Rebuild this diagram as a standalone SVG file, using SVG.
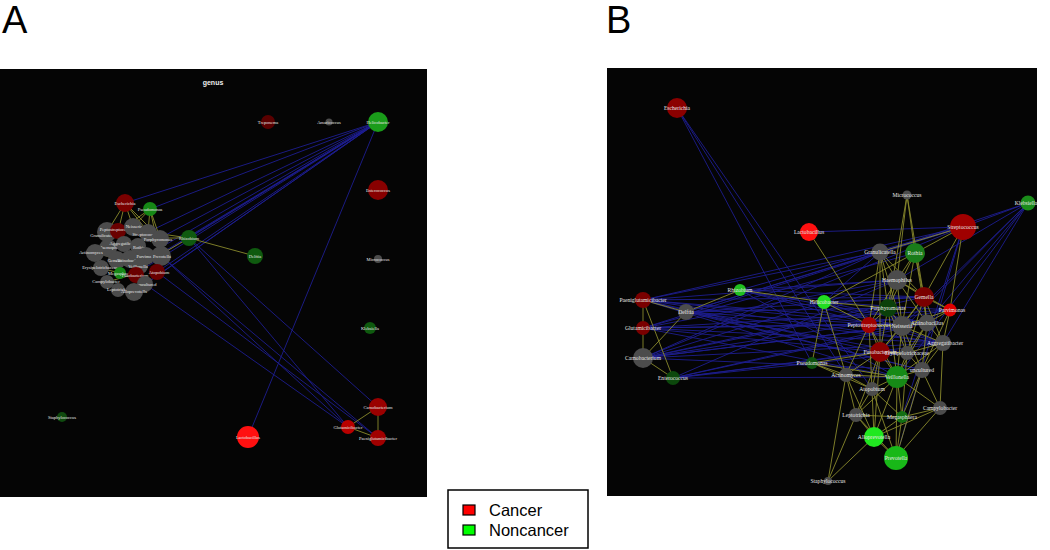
<svg xmlns="http://www.w3.org/2000/svg" width="1050" height="550" viewBox="0 0 1050 550">
<style>
.panel{fill:#050505}
.eb{stroke:#2222a8;stroke-width:0.9;opacity:0.85}
.ey{stroke:#8a8a2c;stroke-width:0.9}
.la{font-family:"Liberation Serif",serif;font-size:4.5px;fill:#e8e8e8;text-anchor:middle;dominant-baseline:central}
.lb{font-family:"Liberation Serif",serif;font-size:5.6px;fill:#e8e8e8;text-anchor:middle;dominant-baseline:central}
.gr{fill:#4c4c4c}
.big{font-family:"Liberation Sans",sans-serif;font-size:38px;fill:#000}
.leg{font-family:"Liberation Sans",sans-serif;font-size:16.5px;fill:#000}
</style>
<rect width="1050" height="550" fill="#fff"/>
<text class="big" x="2" y="33">A</text>
<text class="big" x="606" y="33">B</text>
<rect class="panel" x="0" y="69" width="427" height="428"/>
<rect class="panel" x="607" y="68" width="430" height="428"/>
<text x="213" y="85" font-family="Liberation Sans, sans-serif" font-size="7" font-weight="bold" fill="#eee" text-anchor="middle">genus</text>

<g id="connectors">
<!-- Panel A blue -->
<g class="eb">
<line x1="378" y1="122" x2="125" y2="203"/>
<line x1="378" y1="122" x2="150" y2="209"/>
<line x1="378" y1="122" x2="189" y2="238"/>
<line x1="378" y1="122" x2="148" y2="232"/>
<line x1="378" y1="122" x2="160" y2="238"/>
<line x1="378" y1="122" x2="160" y2="255"/>
<line x1="378" y1="122" x2="146" y2="256"/>
<line x1="378" y1="122" x2="157" y2="272"/>
<line x1="378" y1="122" x2="135" y2="274"/>
<line x1="378" y1="122" x2="145" y2="284"/>
<line x1="378" y1="122" x2="140" y2="266"/>
<line x1="378" y1="122" x2="134" y2="292"/>
<line x1="378" y1="122" x2="248" y2="437"/>
<line x1="189" y1="238" x2="378" y2="407"/>
<line x1="189" y1="238" x2="348" y2="427"/>
<line x1="160" y1="255" x2="348" y2="427"/>
<line x1="160" y1="255" x2="378" y2="438"/>
<line x1="157" y1="272" x2="378" y2="438"/>
<line x1="145" y1="284" x2="348" y2="427"/>
</g>
<!-- Panel A yellow -->
<g class="ey">
<line x1="189" y1="238" x2="255" y2="256"/>
<line x1="189" y1="238" x2="160" y2="238"/>
<line x1="189" y1="238" x2="148" y2="232"/>
<line x1="189" y1="238" x2="160" y2="255"/>
<line x1="125" y1="203" x2="118" y2="232"/>
<line x1="125" y1="203" x2="133" y2="227"/>
<line x1="125" y1="203" x2="107" y2="232"/>
<line x1="125" y1="203" x2="148" y2="232"/>
<line x1="125" y1="203" x2="160" y2="238"/>
<line x1="150" y1="209" x2="133" y2="227"/>
<line x1="150" y1="209" x2="148" y2="232"/>
<line x1="150" y1="209" x2="160" y2="238"/>
<line x1="150" y1="209" x2="160" y2="255"/>
<line x1="150" y1="209" x2="118" y2="232"/>
<line x1="95" y1="252" x2="118" y2="260"/>
<line x1="100" y1="268" x2="120" y2="273"/>
<line x1="107" y1="282" x2="135" y2="274"/>
<line x1="118" y1="290" x2="134" y2="292"/>
<line x1="378" y1="407" x2="348" y2="427"/>
<line x1="378" y1="407" x2="378" y2="438"/>
<line x1="348" y1="427" x2="378" y2="438"/>
</g>
<!-- Panel B blue -->
<g class="eb">
<line x1="643" y1="300" x2="880" y2="252"/>
<line x1="643" y1="300" x2="897" y2="280"/>
<line x1="643" y1="300" x2="902" y2="326"/>
<line x1="643" y1="300" x2="927" y2="323"/>
<line x1="643" y1="300" x2="943" y2="343"/>
<line x1="643" y1="300" x2="897" y2="377"/>
<line x1="643" y1="300" x2="963" y2="227"/>
<line x1="643" y1="300" x2="880" y2="352"/>
<line x1="643" y1="300" x2="924" y2="297"/>
<line x1="643" y1="300" x2="922" y2="370"/>
<line x1="686" y1="312" x2="880" y2="252"/>
<line x1="686" y1="312" x2="888" y2="308"/>
<line x1="686" y1="312" x2="902" y2="326"/>
<line x1="686" y1="312" x2="924" y2="297"/>
<line x1="686" y1="312" x2="922" y2="370"/>
<line x1="686" y1="312" x2="943" y2="343"/>
<line x1="686" y1="312" x2="963" y2="227"/>
<line x1="686" y1="312" x2="907" y2="353"/>
<line x1="643" y1="328" x2="897" y2="280"/>
<line x1="643" y1="328" x2="869" y2="325"/>
<line x1="643" y1="328" x2="927" y2="323"/>
<line x1="643" y1="328" x2="880" y2="352"/>
<line x1="643" y1="328" x2="897" y2="377"/>
<line x1="643" y1="328" x2="943" y2="343"/>
<line x1="643" y1="328" x2="915" y2="253"/>
<line x1="643" y1="328" x2="963" y2="227"/>
<line x1="643" y1="328" x2="950" y2="310"/>
<line x1="643" y1="358" x2="880" y2="252"/>
<line x1="643" y1="358" x2="897" y2="280"/>
<line x1="643" y1="358" x2="902" y2="326"/>
<line x1="643" y1="358" x2="924" y2="297"/>
<line x1="643" y1="358" x2="950" y2="310"/>
<line x1="643" y1="358" x2="943" y2="343"/>
<line x1="643" y1="358" x2="922" y2="370"/>
<line x1="643" y1="358" x2="963" y2="227"/>
<line x1="643" y1="358" x2="888" y2="308"/>
<line x1="643" y1="358" x2="927" y2="323"/>
<line x1="673" y1="378" x2="902" y2="326"/>
<line x1="673" y1="378" x2="927" y2="323"/>
<line x1="673" y1="378" x2="880" y2="352"/>
<line x1="673" y1="378" x2="897" y2="377"/>
<line x1="673" y1="378" x2="907" y2="353"/>
<line x1="673" y1="378" x2="943" y2="343"/>
<line x1="673" y1="378" x2="897" y2="280"/>
<line x1="740" y1="290" x2="897" y2="280"/>
<line x1="740" y1="290" x2="902" y2="326"/>
<line x1="740" y1="290" x2="924" y2="297"/>
<line x1="740" y1="290" x2="943" y2="343"/>
<line x1="740" y1="290" x2="963" y2="227"/>
<line x1="740" y1="290" x2="897" y2="377"/>
<line x1="740" y1="290" x2="927" y2="323"/>
<line x1="824" y1="302" x2="880" y2="252"/>
<line x1="824" y1="302" x2="924" y2="297"/>
<line x1="824" y1="302" x2="950" y2="310"/>
<line x1="824" y1="302" x2="943" y2="343"/>
<line x1="824" y1="302" x2="927" y2="323"/>
<line x1="677" y1="108" x2="812" y2="363"/>
<line x1="677" y1="108" x2="846" y2="375"/>
<line x1="677" y1="108" x2="872" y2="389"/>
<line x1="1028" y1="203" x2="880" y2="252"/>
<line x1="1028" y1="203" x2="897" y2="280"/>
<line x1="1028" y1="203" x2="902" y2="326"/>
<line x1="1028" y1="203" x2="880" y2="352"/>
<line x1="1028" y1="203" x2="897" y2="377"/>
<line x1="1028" y1="203" x2="943" y2="343"/>
<line x1="1028" y1="203" x2="963" y2="227"/>
<line x1="1028" y1="203" x2="927" y2="323"/>
<line x1="809" y1="232" x2="963" y2="227"/>
<line x1="963" y1="227" x2="902" y2="417"/>
<line x1="963" y1="227" x2="896" y2="458"/>
</g>
<!-- Panel B yellow -->
<g class="ey">
<line x1="643" y1="300" x2="686" y2="312"/>
<line x1="643" y1="300" x2="643" y2="328"/>
<line x1="643" y1="328" x2="643" y2="358"/>
<line x1="643" y1="358" x2="686" y2="312"/>
<line x1="643" y1="358" x2="673" y2="378"/>
<line x1="643" y1="300" x2="673" y2="378"/>
<line x1="686" y1="312" x2="740" y2="290"/>
<line x1="740" y1="290" x2="824" y2="302"/>
<line x1="824" y1="302" x2="812" y2="363"/>
<line x1="824" y1="302" x2="846" y2="375"/>
<line x1="824" y1="302" x2="869" y2="325"/>
<line x1="824" y1="302" x2="915" y2="253"/>
<line x1="824" y1="302" x2="888" y2="308"/>
<line x1="812" y1="363" x2="846" y2="375"/>
<line x1="812" y1="363" x2="872" y2="389"/>
<line x1="812" y1="363" x2="897" y2="377"/>
<line x1="812" y1="363" x2="880" y2="352"/>
<line x1="809" y1="232" x2="869" y2="325"/>
<line x1="907" y1="195" x2="897" y2="280"/>
<line x1="907" y1="195" x2="915" y2="253"/>
<line x1="907" y1="195" x2="888" y2="308"/>
<line x1="907" y1="195" x2="924" y2="297"/>
<line x1="963" y1="227" x2="915" y2="253"/>
<line x1="963" y1="227" x2="924" y2="297"/>
<line x1="963" y1="227" x2="880" y2="252"/>
<line x1="963" y1="227" x2="950" y2="310"/>
<line x1="880" y1="252" x2="897" y2="280"/>
<line x1="880" y1="252" x2="888" y2="308"/>
<line x1="880" y1="252" x2="902" y2="326"/>
<line x1="880" y1="252" x2="869" y2="325"/>
<line x1="880" y1="252" x2="924" y2="297"/>
<line x1="880" y1="252" x2="880" y2="352"/>
<line x1="915" y1="253" x2="897" y2="280"/>
<line x1="915" y1="253" x2="924" y2="297"/>
<line x1="915" y1="253" x2="888" y2="308"/>
<line x1="915" y1="253" x2="902" y2="326"/>
<line x1="915" y1="253" x2="927" y2="323"/>
<line x1="897" y1="280" x2="924" y2="297"/>
<line x1="897" y1="280" x2="888" y2="308"/>
<line x1="897" y1="280" x2="902" y2="326"/>
<line x1="897" y1="280" x2="927" y2="323"/>
<line x1="897" y1="280" x2="869" y2="325"/>
<line x1="897" y1="280" x2="950" y2="310"/>
<line x1="924" y1="297" x2="950" y2="310"/>
<line x1="924" y1="297" x2="902" y2="326"/>
<line x1="924" y1="297" x2="927" y2="323"/>
<line x1="924" y1="297" x2="943" y2="343"/>
<line x1="924" y1="297" x2="880" y2="352"/>
<line x1="924" y1="297" x2="907" y2="353"/>
<line x1="950" y1="310" x2="927" y2="323"/>
<line x1="950" y1="310" x2="943" y2="343"/>
<line x1="950" y1="310" x2="922" y2="370"/>
<line x1="950" y1="310" x2="902" y2="326"/>
<line x1="888" y1="308" x2="869" y2="325"/>
<line x1="888" y1="308" x2="902" y2="326"/>
<line x1="888" y1="308" x2="880" y2="352"/>
<line x1="888" y1="308" x2="907" y2="353"/>
<line x1="888" y1="308" x2="897" y2="377"/>
<line x1="869" y1="325" x2="880" y2="352"/>
<line x1="869" y1="325" x2="902" y2="326"/>
<line x1="869" y1="325" x2="846" y2="375"/>
<line x1="869" y1="325" x2="897" y2="377"/>
<line x1="869" y1="325" x2="872" y2="389"/>
<line x1="902" y1="326" x2="927" y2="323"/>
<line x1="902" y1="326" x2="880" y2="352"/>
<line x1="902" y1="326" x2="907" y2="353"/>
<line x1="902" y1="326" x2="897" y2="377"/>
<line x1="902" y1="326" x2="922" y2="370"/>
<line x1="902" y1="326" x2="943" y2="343"/>
<line x1="927" y1="323" x2="943" y2="343"/>
<line x1="927" y1="323" x2="907" y2="353"/>
<line x1="927" y1="323" x2="922" y2="370"/>
<line x1="927" y1="323" x2="897" y2="377"/>
<line x1="943" y1="343" x2="922" y2="370"/>
<line x1="943" y1="343" x2="907" y2="353"/>
<line x1="943" y1="343" x2="940" y2="408"/>
<line x1="943" y1="343" x2="897" y2="377"/>
<line x1="880" y1="352" x2="907" y2="353"/>
<line x1="880" y1="352" x2="897" y2="377"/>
<line x1="880" y1="352" x2="846" y2="375"/>
<line x1="880" y1="352" x2="872" y2="389"/>
<line x1="880" y1="352" x2="856" y2="415"/>
<line x1="880" y1="352" x2="874" y2="437"/>
<line x1="907" y1="353" x2="897" y2="377"/>
<line x1="907" y1="353" x2="922" y2="370"/>
<line x1="907" y1="353" x2="902" y2="417"/>
<line x1="897" y1="377" x2="922" y2="370"/>
<line x1="897" y1="377" x2="872" y2="389"/>
<line x1="897" y1="377" x2="902" y2="417"/>
<line x1="897" y1="377" x2="896" y2="458"/>
<line x1="897" y1="377" x2="874" y2="437"/>
<line x1="897" y1="377" x2="940" y2="408"/>
<line x1="897" y1="377" x2="856" y2="415"/>
<line x1="922" y1="370" x2="940" y2="408"/>
<line x1="922" y1="370" x2="902" y2="417"/>
<line x1="922" y1="370" x2="896" y2="458"/>
<line x1="846" y1="375" x2="872" y2="389"/>
<line x1="846" y1="375" x2="856" y2="415"/>
<line x1="846" y1="375" x2="874" y2="437"/>
<line x1="846" y1="375" x2="828" y2="481"/>
<line x1="846" y1="375" x2="897" y2="377"/>
<line x1="872" y1="389" x2="856" y2="415"/>
<line x1="872" y1="389" x2="874" y2="437"/>
<line x1="872" y1="389" x2="902" y2="417"/>
<line x1="872" y1="389" x2="896" y2="458"/>
<line x1="940" y1="408" x2="902" y2="417"/>
<line x1="940" y1="408" x2="874" y2="437"/>
<line x1="940" y1="408" x2="896" y2="458"/>
<line x1="856" y1="415" x2="902" y2="417"/>
<line x1="856" y1="415" x2="874" y2="437"/>
<line x1="856" y1="415" x2="896" y2="458"/>
<line x1="856" y1="415" x2="828" y2="481"/>
<line x1="902" y1="417" x2="874" y2="437"/>
<line x1="902" y1="417" x2="896" y2="458"/>
<line x1="874" y1="437" x2="896" y2="458"/>
<line x1="874" y1="437" x2="828" y2="481"/>
</g>
</g>

<!-- Panel A nodes -->
<g id="a-treponema"><circle cx="268" cy="122" r="7" fill="#5a0000"/><text class="la" x="268" y="122">Treponema</text></g>
<g id="a-amaricoccus"><circle cx="329" cy="122" r="3.5" class="gr"/><text class="la" x="329" y="122">Amaricoccus</text></g>
<g id="a-helicobacter"><circle cx="378" cy="122" r="10" fill="#1a9c1a"/><text class="la" x="378" y="122">Helicobacter</text></g>
<g id="a-enterococcus"><circle cx="378" cy="190" r="10" fill="#880000"/><text class="la" x="378" y="190">Enterococcus</text></g>
<g id="a-micrococcus"><circle cx="378" cy="259" r="4" class="gr"/><text class="la" x="378" y="259">Micrococcus</text></g>
<g id="a-klebsiella"><circle cx="370" cy="328" r="6" fill="#0f5a0f"/><text class="la" x="370" y="328">Klebsiella</text></g>
<g id="a-delftia"><circle cx="255" cy="256" r="8" fill="#0f5a0f"/><text class="la" x="255" y="256">Delftia</text></g>
<g id="a-staphylococcus"><circle cx="62" cy="417" r="5" fill="#0f4a0f"/><text class="la" x="62" y="417">Staphylococcus</text></g>
<g id="a-lactobacillus"><circle cx="248" cy="437" r="11" fill="#ff1010"/><text class="la" x="248" y="437">Lactobacillus</text></g>
<g id="a-carnobacterium"><circle cx="378" cy="407" r="9" fill="#9a0000"/><text class="la" x="378" y="407">Carnobacterium</text></g>
<g id="a-glutamicibacter"><circle cx="348" cy="427" r="7" fill="#b80000"/><text class="la" x="348" y="427">Glutamicibacter</text></g>
<g id="a-paeniglutamicibacter"><circle cx="378" cy="438" r="8" fill="#a00000"/><text class="la" x="378" y="438">Paeniglutamicibacter</text></g>
<g id="a-escherichia"><circle cx="125" cy="203" r="9" fill="#7a0000"/><text class="la" x="125" y="203">Escherichia</text></g>
<g id="a-pseudomonas"><circle cx="150" cy="209" r="7" fill="#168816"/><text class="la" x="150" y="209">Pseudomonas</text></g>
<g id="a-rhizobium"><circle cx="189" cy="238" r="8" fill="#0f5a0f"/><text class="la" x="189" y="238">Rhizobium</text></g>
<g id="a-granulicatella"><circle cx="107" cy="232" r="10" class="gr"/><text class="la" x="103" y="235">Granulicatella</text></g>
<g id="a-peptostreptococcus"><circle cx="118" cy="231" r="8" fill="#6a0000"/><text class="la" x="117" y="229">Peptostreptococcus</text></g>
<g id="a-neisseria"><circle cx="133" cy="227" r="9" class="gr"/><text class="la" x="134" y="226">Neisseria</text></g>
<g id="a-streptococcus"><circle cx="148" cy="233" r="9" class="gr"/><text class="la" x="145" y="234">Streptococcus</text></g>
<g id="a-porphyromonas"><circle cx="160" cy="239" r="9" class="gr"/><text class="la" x="158" y="239">Porphyromonas</text></g>
<g id="a-haemophilus"><circle cx="108" cy="248" r="9" class="gr"/><text class="la" x="111" y="247">Haemophilus</text></g>
<g id="a-aggregatibacter"><circle cx="124" cy="244" r="8" class="gr"/><text class="la" x="124" y="243">Aggregatibacter</text></g>
<g id="a-rothia"><circle cx="138" cy="246" r="8" class="gr"/><text class="la" x="139" y="247">Rothia</text></g>
<g id="a-actinomyces"><circle cx="95" cy="253" r="9" class="gr"/><text class="la" x="91" y="252">Actinomyces</text></g>
<g id="a-gemella"><circle cx="117" cy="260" r="9" class="gr"/><text class="la" x="115" y="260">Gemella</text></g>
<g id="a-actinobacillus"><circle cx="130" cy="259" r="9" class="gr"/><text class="la" x="129" y="260">Actinobacillus</text></g>
<g id="a-parvimonas"><circle cx="146" cy="256" r="9" class="gr"/><text class="la" x="147" y="256">Parvimonas</text></g>
<g id="a-prevotella"><circle cx="161" cy="256" r="10" class="gr"/><text class="la" x="162" y="256">Prevotella</text></g>
<g id="a-veillonella"><circle cx="140" cy="266" r="8" class="gr"/><text class="la" x="138" y="266">Veillonella</text></g>
<g id="a-erysipelotrichaceae"><circle cx="101" cy="268" r="8" class="gr"/><text class="la" x="100" y="267">Erysipelotrichaceae</text></g>
<g id="a-megasphaera"><circle cx="120" cy="273" r="6" fill="#168816"/><text class="la" x="120" y="273">Megasphaera</text></g>
<g id="a-fusobacterium"><circle cx="136" cy="275" r="8" fill="#6a0000"/><text class="la" x="135" y="275">Fusobacterium</text></g>
<g id="a-atopobium"><circle cx="157" cy="272" r="8" fill="#6a0000"/><text class="la" x="159" y="272">Atopobium</text></g>
<g id="a-campylobacter"><circle cx="107" cy="282" r="7" class="gr"/><text class="la" x="106" y="281">Campylobacter</text></g>
<g id="a-uncultured"><circle cx="145" cy="284" r="8" class="gr"/><text class="la" x="147" y="284">uncultured</text></g>
<g id="a-leptotrichia"><circle cx="118" cy="290" r="7" class="gr"/><text class="la" x="118" y="289">Leptotrichia</text></g>
<g id="a-alloprevotella"><circle cx="134" cy="292" r="9" class="gr"/><text class="la" x="134" y="291">Alloprevotella</text></g>

<!-- Panel B nodes -->
<g id="b-escherichia"><circle cx="677" cy="108" r="10" fill="#8b0000"/><text class="lb" x="677" y="108">Escherichia</text></g>
<g id="b-lactobacillus"><circle cx="809" cy="232" r="9" fill="#ff1010"/><text class="lb" x="809" y="232">Lactobacillus</text></g>
<g id="b-micrococcus"><circle cx="907" cy="195" r="4.5" class="gr"/><text class="lb" x="907" y="195">Micrococcus</text></g>
<g id="b-klebsiella"><circle cx="1028" cy="203" r="7.5" fill="#1a8c1a"/><text class="lb" x="1026" y="203" font-size="5">Klebsiella</text></g>
<g id="b-streptococcus"><circle cx="963" cy="227" r="13" fill="#a00000"/><text class="lb" x="963" y="227">Streptococcus</text></g>
<g id="b-granulicatella"><circle cx="880" cy="252" r="8.5" class="gr"/><text class="lb" x="880" y="252">Granulicatella</text></g>
<g id="b-rothia"><circle cx="915" cy="253" r="10" fill="#1a7c1a"/><text class="lb" x="915" y="253">Rothia</text></g>
<g id="b-haemophilus"><circle cx="897" cy="280" r="10" class="gr"/><text class="lb" x="897" y="280">Haemophilus</text></g>
<g id="b-gemella"><circle cx="924" cy="297" r="10" fill="#7a0000"/><text class="lb" x="924" y="297">Gemella</text></g>
<g id="b-parvimonas"><circle cx="950" cy="310" r="6.5" fill="#e00000"/><text class="lb" x="952" y="310">Parvimonas</text></g>
<g id="b-helicobacter"><circle cx="824" cy="302" r="7" fill="#22dd22"/><text class="lb" x="824" y="302">Helicobacter</text></g>
<g id="b-rhizobium"><circle cx="740" cy="290" r="6" fill="#20c020"/><text class="lb" x="740" y="290">Rhizobium</text></g>
<g id="b-paeniglutamicibacter"><circle cx="643" cy="300" r="8" fill="#7a0000"/><text class="lb" x="643" y="300">Paeniglutamicibacter</text></g>
<g id="b-delftia"><circle cx="686" cy="312" r="8" class="gr"/><text class="lb" x="686" y="312">Delftia</text></g>
<g id="b-glutamicibacter"><circle cx="643" cy="328" r="7" fill="#7a0000"/><text class="lb" x="643" y="328">Glutamicibacter</text></g>
<g id="b-carnobacterium"><circle cx="643" cy="358" r="10" class="gr"/><text class="lb" x="643" y="358">Carnobacterium</text></g>
<g id="b-enterococcus"><circle cx="673" cy="378" r="7" fill="#0c480c"/><text class="lb" x="673" y="378">Enterococcus</text></g>
<g id="b-porphyromonas"><circle cx="888" cy="308" r="9" fill="#0a400a"/><text class="lb" x="888" y="308">Porphyromonas</text></g>
<g id="b-peptostreptococcus"><circle cx="869" cy="325" r="8" fill="#a00000"/><text class="lb" x="869" y="325">Peptostreptococcus</text></g>
<g id="b-neisseria"><circle cx="902" cy="326" r="10" class="gr"/><text class="lb" x="902" y="326">Neisseria</text></g>
<g id="b-actinobacillus"><circle cx="927" cy="323" r="8.5" class="gr"/><text class="lb" x="927" y="323">Actinobacillus</text></g>
<g id="b-aggregatibacter"><circle cx="943" cy="343" r="8" class="gr"/><text class="lb" x="945" y="343">Aggregatibacter</text></g>
<g id="b-fusobacterium"><circle cx="880" cy="352" r="10" fill="#8a0000"/><text class="lb" x="880" y="352">Fusobacterium</text></g>
<g id="b-erysipelotrichaceae"><circle cx="907" cy="353" r="7" class="gr"/><text class="lb" x="907" y="353">Erysipelotrichaceae</text></g>
<g id="b-pseudomonas"><circle cx="812" cy="363" r="6" fill="#0e520e"/><text class="lb" x="812" y="363">Pseudomonas</text></g>
<g id="b-actinomyces"><circle cx="846" cy="375" r="7" class="gr"/><text class="lb" x="846" y="375">Actinomyces</text></g>
<g id="b-uncultured"><circle cx="922" cy="370" r="8" class="gr"/><text class="lb" x="922" y="370">uncultured</text></g>
<g id="b-veillonella"><circle cx="897" cy="377" r="11" fill="#168a16"/><text class="lb" x="897" y="377">Veillonella</text></g>
<g id="b-atopobium"><circle cx="872" cy="389" r="7" class="gr"/><text class="lb" x="872" y="389">Atopobium</text></g>
<g id="b-campylobacter"><circle cx="940" cy="408" r="7" class="gr"/><text class="lb" x="940" y="408">Campylobacter</text></g>
<g id="b-leptotrichia"><circle cx="856" cy="415" r="7" class="gr"/><text class="lb" x="856" y="415">Leptotrichia</text></g>
<g id="b-megasphaera"><circle cx="902" cy="417" r="6" fill="#137013"/><text class="lb" x="902" y="417">Megasphaera</text></g>
<g id="b-alloprevotella"><circle cx="874" cy="437" r="10" fill="#20e820"/><text class="lb" x="874" y="437">Alloprevotella</text></g>
<g id="b-prevotella"><circle cx="896" cy="458" r="12" fill="#18b818"/><text class="lb" x="896" y="458">Prevotella</text></g>
<g id="b-staphylococcus"><circle cx="828" cy="481" r="4" class="gr"/><text class="lb" x="828" y="481">Staphylococcus</text></g>

<g id="legend">
<rect x="448" y="490" width="140" height="58" fill="#fff" stroke="#000" stroke-width="1.5"/>
<rect x="463" y="505" width="12" height="10" fill="#ff0000" stroke="#000" stroke-width="1.2"/>
<rect x="463" y="525" width="12" height="10" fill="#00ff00" stroke="#000" stroke-width="1.2"/>
<text class="leg" x="489" y="516">Cancer</text>
<text class="leg" x="489" y="536">Noncancer</text>
</g>
</svg>
